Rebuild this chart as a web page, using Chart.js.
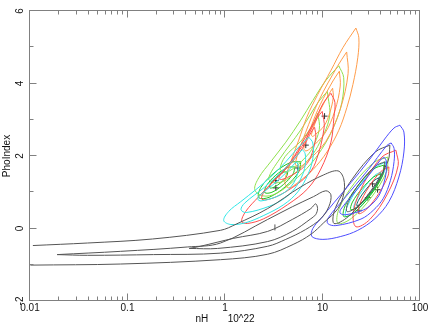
<!DOCTYPE html>
<html>
<head>
<meta charset="utf-8">
<script src="https://cdn.jsdelivr.net/npm/chart.js@4.4.1/dist/chart.umd.min.js"></script>
<style>
  html, body { margin: 0; padding: 0; background: #fff; }
</style>
</head>
<body>
<canvas id="chartContour" width="436" height="325"></canvas>
<script>
// ── Ejes ─────────────────────────────────────────────────────────────────────
var xMajor = [0.01, 0.1, 1, 10, 100];
var xMajorLabels = ['0.01', '0.1', '1', '10', '100'];
var xMinorSteps = [2, 3, 4, 5, 6, 7, 8, 9];
var yTicks = [-2, -1, 0, 1, 2, 3, 4, 5, 6];
var yTickLabels = ['-2', '', '0', '', '2', '', '4', '', '6'];

// ── Contornos: [nH, PhoIndex] ────────────────────────────────────────────────
// banana gris (abierto por la izquierda)
var gray1 = [[0.0107,-0.47],[0.039,-0.40],[0.18,-0.29],[0.90,-0.05],[1.3,0.12],[2.74,0.55],[6.0,1.15],[10.3,1.48],[14.4,1.59],[16.5,1.37],[16.5,0.96],[14.4,0.55],[10.3,0.16],[7.6,-0.16],[5.0,-0.44],[2.74,-0.71],[0.90,-0.86],[0.085,-0.98],[0.0101,-1.01]];
var gray2 = [[0.019,-0.72],[0.085,-0.63],[0.41,-0.51],[0.90,-0.40],[2.74,0.25],[4.9,0.60],[8.1,0.88],[10.8,1.04],[12.2,0.93],[11.6,0.60],[9.6,0.27],[6.7,-0.03],[4.2,-0.30],[2.74,-0.49],[0.90,-0.68],[0.185,-0.72],[0.039,-0.74],[0.019,-0.72]];
var gray3 = [[0.43,-0.55],[0.56,-0.49],[1.23,-0.27],[2.74,-0.08],[4.9,0.25],[7.6,0.55],[8.5,0.68],[8.9,0.55],[8.5,0.38],[7.6,0.27],[4.9,-0.08],[2.74,-0.36],[0.84,-0.55],[0.43,-0.55]];

// grupo izquierdo
var orange1 = [[22.0,5.53],[23.6,5.26],[23.0,4.71],[20.5,3.97],[17.8,3.34],[14.7,2.71],[11.1,2.11],[7.95,1.62],[5.71,1.29],[4.51,1.12],[4.10,1.29],[4.73,1.84],[5.71,2.44],[6.90,3.07],[8.95,3.70],[12.2,4.36],[16.2,4.99],[22.0,5.53]];
var orange2 = [[17.7,4.87],[18.3,4.27],[15.2,3.29],[10.8,2.40],[6.69,1.81],[5.65,1.69],[5.27,1.81],[6.69,2.64],[9.25,3.55],[14.2,4.47],[17.7,4.87]];
var orange3 = [[14.9,4.34],[15.2,3.93],[13.4,3.25],[10.6,2.63],[7.58,2.22],[6.74,2.14],[6.43,2.22],[7.58,2.79],[9.49,3.42],[12.8,4.07],[14.9,4.34]];
var orange4 = [[12.7,3.87],[12.9,3.62],[11.9,3.20],[10.4,2.83],[8.49,2.60],[7.91,2.54],[7.69,2.59],[8.49,2.94],[9.72,3.32],[11.6,3.70],[12.7,3.87]];

var lgreen1 = [[14.7,4.49],[16.5,4.16],[15.8,3.48],[13.4,2.88],[10.6,2.33],[7.58,1.78],[4.95,1.29],[3.32,0.96],[2.44,0.90],[2.02,1.07],[2.22,1.40],[2.94,1.84],[4.20,2.38],[5.99,2.99],[7.95,3.53],[10.8,4.08],[14.7,4.49]];
var lgreen2 = [[11.2,3.78],[11.8,3.07],[8.91,2.26],[7.06,1.88],[5.24,1.53],[3.96,1.30],[3.19,1.27],[2.80,1.38],[3.64,1.92],[5.99,2.72],[9.06,3.49],[11.2,3.78]];
var lgreen3 = [[8.97,3.18],[9.27,2.73],[7.73,2.18],[6.67,1.96],[5.50,1.74],[4.59,1.59],[4.00,1.57],[3.67,1.64],[4.15,1.99],[5.99,2.41],[7.82,2.83],[8.97,3.18]];

var dgreen1 = [[5.99,1.84],[4.69,1.82],[3.18,1.53],[2.33,1.13],[2.22,0.85],[2.83,0.86],[4.19,1.16],[5.70,1.56],[5.99,1.84]];
var dgreen2 = [[5.20,1.70],[4.38,1.68],[3.32,1.47],[2.66,1.18],[2.56,0.99],[3.03,1.00],[4.00,1.22],[5.00,1.51],[5.20,1.70]];
var dgreen3 = [[4.40,1.56],[3.98,1.55],[3.37,1.41],[2.94,1.24],[2.88,1.12],[3.18,1.14],[3.76,1.27],[4.30,1.45],[4.40,1.56]];

var red1 = [[12.2,3.73],[13.4,3.48],[13.1,3.07],[12.2,2.38],[9.61,1.64],[7.06,1.10],[4.40,0.66],[2.50,0.27],[1.71,0.14],[1.48,0.19],[1.63,0.47],[2.22,0.88],[3.09,1.29],[4.40,1.73],[5.99,2.30],[8.14,2.93],[10.3,3.48],[12.2,3.73]];
var red2 = [[9.93,3.23],[10.4,2.78],[8.45,1.81],[6.85,1.44],[4.97,1.14],[3.38,0.88],[2.61,0.79],[2.37,0.82],[2.53,1.01],[3.90,1.57],[6.13,2.26],[8.87,3.06],[9.93,3.23]];
var red3 = [[8.30,2.79],[8.53,2.52],[7.55,1.96],[6.67,1.74],[5.53,1.56],[4.38,1.41],[3.78,1.35],[3.57,1.38],[3.71,1.48],[4.80,1.81],[6.25,2.22],[7.77,2.69],[8.30,2.79]];

var cyan1 = [[7.23,2.52],[7.95,2.36],[7.95,1.92],[7.06,1.48],[5.58,1.01],[4.01,0.66],[2.50,0.36],[1.63,0.16],[1.15,0.11],[0.97,0.22],[1.09,0.47],[1.45,0.74],[2.07,1.07],[2.94,1.42],[4.20,1.84],[5.58,2.22],[7.23,2.52]];
var cyan2 = [[6.22,2.18],[6.64,2.06],[6.64,1.74],[6.10,1.42],[5.14,1.09],[4.06,0.83],[2.89,0.62],[1.65,0.44],[1.46,0.52],[1.59,0.70],[2.52,1.13],[4.20,1.68],[6.22,2.18]];
var cyan3 = [[5.37,1.84],[5.60,1.77],[5.60,1.57],[5.32,1.36],[4.77,1.16],[4.11,1.00],[3.32,0.87],[2.34,0.76],[2.17,0.81],[2.29,0.92],[3.05,1.19],[4.20,1.53],[5.37,1.84]];

// grupo derecho
var blue1 = [[62.2,2.85],[68.4,2.66],[68.4,2.11],[60.7,1.42],[48.0,0.74],[34.4,0.27],[23.0,-0.05],[15.4,-0.22],[10.1,-0.30],[7.77,-0.22],[7.95,0.00],[9.61,0.27],[13.1,0.71],[19.5,1.26],[29.2,1.84],[42.6,2.44],[54.0,2.77],[62.2,2.85]];
var blue2 = [[50.6,2.36],[54.2,2.21],[54.2,1.85],[49.8,1.33],[42.0,0.83],[33.1,0.50],[24.8,0.26],[13.7,0.08],[11.3,0.14],[11.5,0.30],[16.5,0.81],[29.4,1.62],[45.7,2.29],[50.6,2.36]];
var blue3 = [[43.1,1.96],[45.2,1.86],[45.2,1.59],[42.6,1.25],[37.8,0.90],[32.1,0.67],[26.2,0.51],[17.3,0.38],[15.2,0.42],[15.4,0.53],[19.8,0.89],[29.5,1.45],[40.2,1.92],[43.1,1.96]];
var grayR1 = [[49.1,2.30],[34.8,2.11],[20.5,1.39],[13.6,0.58],[13.1,0.14],[18.4,0.33],[31.3,1.04],[47.0,1.86],[49.1,2.30]];
var grayR2 = [[43.6,1.84],[34.8,1.72],[24.4,1.27],[18.5,0.75],[17.8,0.47],[22.2,0.58],[31.8,1.03],[42.0,1.55],[43.6,1.84]];
var redR1 = [[56.6,2.16],[40.6,1.97],[26.8,1.27],[20.8,0.48],[22.0,0.05],[30.6,0.25],[46.3,0.95],[59.7,1.74],[56.6,2.16]];
var redR2 = [[48.0,1.70],[39.7,1.57],[29.8,1.14],[24.0,0.66],[23.6,0.41],[28.5,0.54],[37.9,0.97],[47.0,1.45],[48.0,1.70]];
var lgreenR1 = [[46.8,1.97],[34.0,1.83],[21.1,1.24],[14.7,0.53],[14.4,0.14],[19.8,0.28],[31.9,0.87],[45.6,1.58],[46.8,1.97]];
var dgreenR2 = [[42.6,1.75],[33.4,1.64],[22.9,1.17],[17.1,0.63],[16.5,0.33],[21.1,0.44],[30.9,0.91],[41.2,1.45],[42.6,1.75]];
var dgreenR3 = [[39.7,1.51],[33.5,1.42],[25.4,1.10],[20.3,0.73],[19.5,0.52],[23.1,0.60],[30.5,0.93],[38.1,1.30],[39.7,1.51]];
var cyanR1 = [[44.7,1.84],[35.4,1.69],[24.3,1.20],[18.1,0.63],[17.3,0.33],[21.9,0.47],[31.8,0.97],[42.7,1.54],[44.7,1.84]];
var cyanR2 = [[39.7,1.56],[34.2,1.46],[26.7,1.12],[21.8,0.74],[21.0,0.55],[24.3,0.65],[31.1,0.99],[38.1,1.37],[39.7,1.56]];
var tealR1 = [[37.8,1.40],[33.7,1.32],[27.6,1.06],[23.4,0.78],[22.5,0.63],[25.3,0.71],[30.8,0.96],[36.5,1.25],[37.8,1.40]];

// mejores ajustes (+)
var bestFits = [[10.5,3.10],[6.74,2.30],[5.58,1.67],[3.32,1.32],[3.32,1.12],[32.6,1.23],[36.7,1.07],[29.2,0.85],[23.6,0.49]];
var bestFitGray = [[3.25,0.03]];

// ── Colores ──────────────────────────────────────────────────────────────────
var cGray = '#555555', cOrange = '#ff9c4a', cLGreen = '#8ee04c', cDGreen = '#1fc41f',
    cRed = '#ff4d4d', cCyan = '#2ee6e6', cBlue = '#4d4dff', cTeal = '#0a6b6b';
var axisColor = '#808080', textColor = '#111';

function contorno(data, color) {
    return {
        data: data,
        showLine: true,
        borderColor: color,
        borderWidth: 1,
        pointRadius: 0,
        tension: 0.35,
        fill: false
    };
}

var contornos = [
    [gray1, cGray], [gray2, cGray], [gray3, cGray],
    [cyan1, cCyan], [cyan2, cCyan], [cyan3, cCyan],
    [red1, cRed], [red2, cRed], [red3, cRed],
    [orange1, cOrange], [orange2, cOrange], [orange3, cOrange], [orange4, cOrange],
    [lgreen1, cLGreen], [lgreen2, cLGreen], [lgreen3, cLGreen],
    [dgreen1, cDGreen], [dgreen2, cDGreen], [dgreen3, cDGreen],
    [blue1, cBlue], [blue2, cBlue], [blue3, cBlue],
    [grayR1, cGray], [grayR2, cGray],
    [redR1, cRed], [redR2, cRed],
    [lgreenR1, cLGreen], [dgreenR2, cDGreen], [dgreenR3, cDGreen],
    [cyanR1, cCyan], [cyanR2, cCyan], [tealR1, cTeal]
];

var datasets = contornos.map(function (c) { return contorno(c[0], c[1]); });
datasets.push({
    data: bestFits, showLine: false, pointStyle: 'cross',
    pointRadius: 3, borderColor: '#333', borderWidth: 1
});
datasets.push({
    data: bestFitGray, showLine: false, pointStyle: 'line', rotation: 90,
    pointRadius: 3, borderColor: '#555', borderWidth: 1
});

// ── Marco y marcas hacia dentro (estilo PGPLOT) ──────────────────────────────
var marcoTicks = {
    id: 'marcoTicks',
    afterDatasetsDraw: function (chart) {
        var ctx = chart.ctx, a = chart.chartArea;
        var xs = chart.scales.x, ys = chart.scales.y;
        var L = Math.round(a.left) - 0.5, R = Math.round(a.right) - 0.5;
        var T = Math.round(a.top) - 0.5, B = Math.round(a.bottom) - 0.5;
        ctx.save();
        ctx.strokeStyle = axisColor;
        ctx.lineWidth = 1;
        ctx.strokeRect(L, T, R - L, B - T);
        ctx.beginPath();
        xs.ticks.forEach(function (t) {
            var p = Math.round(xs.getPixelForValue(t.value)) - 0.5;
            var len = t.mayor ? 7 : 4;
            ctx.moveTo(p, B); ctx.lineTo(p, B - len);
            ctx.moveTo(p, T); ctx.lineTo(p, T + len);
        });
        ys.ticks.forEach(function (t) {
            var p = Math.round(ys.getPixelForValue(t.value)) - 0.5;
            var len = t.mayor ? 7 : 4;
            ctx.moveTo(L, p); ctx.lineTo(L + len, p);
            ctx.moveTo(R, p); ctx.lineTo(R - len, p);
        });
        ctx.stroke();
        ctx.restore();
    }
};

var fuente = { family: "'Liberation Sans', Arial, sans-serif", size: 10 };

new Chart(document.getElementById('chartContour'), {
    type: 'scatter',
    data: { datasets: datasets },
    options: {
        responsive: false,
        animation: false,
        events: [],
        layout: { padding: { top: 9, right: 16, left: 0, bottom: 0 } },
        plugins: { legend: { display: false }, tooltip: { enabled: false } },
        scales: {
            x: {
                type: 'logarithmic',
                min: 0.01,
                max: 100,
                grid: { display: false, drawTicks: false },
                border: { display: false },
                afterBuildTicks: function (scale) {
                    var t = [];
                    xMajor.forEach(function (v, i) {
                        t.push({ value: v, mayor: true, txt: xMajorLabels[i] });
                        if (i < xMajor.length - 1) {
                            xMinorSteps.forEach(function (m) {
                                t.push({ value: v * m, mayor: false, txt: '' });
                            });
                        }
                    });
                    scale.ticks = t;
                },
                afterFit: function (scale) { scale.height = 24; },
                ticks: {
                    autoSkip: false,
                    maxRotation: 0,
                    padding: 1,
                    color: textColor,
                    font: fuente,
                    callback: function (v, i, ticks) { return ticks[i].txt; }
                },
                title: {
                    display: true,
                    text: 'nH       10^22',
                    color: textColor,
                    font: fuente,
                    padding: { top: 0, bottom: 0 }
                }
            },
            y: {
                type: 'linear',
                min: -2,
                max: 6,
                grid: { display: false, drawTicks: false },
                border: { display: false },
                afterBuildTicks: function (scale) {
                    scale.ticks = yTicks.map(function (v, i) {
                        return { value: v, mayor: v % 2 === 0, txt: yTickLabels[i] };
                    });
                },
                afterFit: function (scale) { scale.width = 30; },
                ticks: {
                    autoSkip: false,
                    minRotation: 90,
                    maxRotation: 90,
                    crossAlign: 'center',
                    padding: 5,
                    color: textColor,
                    font: fuente,
                    callback: function (v, i, ticks) { return ticks[i].txt; }
                },
                title: {
                    display: true,
                    text: 'PhoIndex',
                    color: textColor,
                    font: fuente,
                    padding: { top: 1, bottom: 0 }
                }
            }
        }
    },
    plugins: [marcoTicks]
});
</script>
</body>
</html>
